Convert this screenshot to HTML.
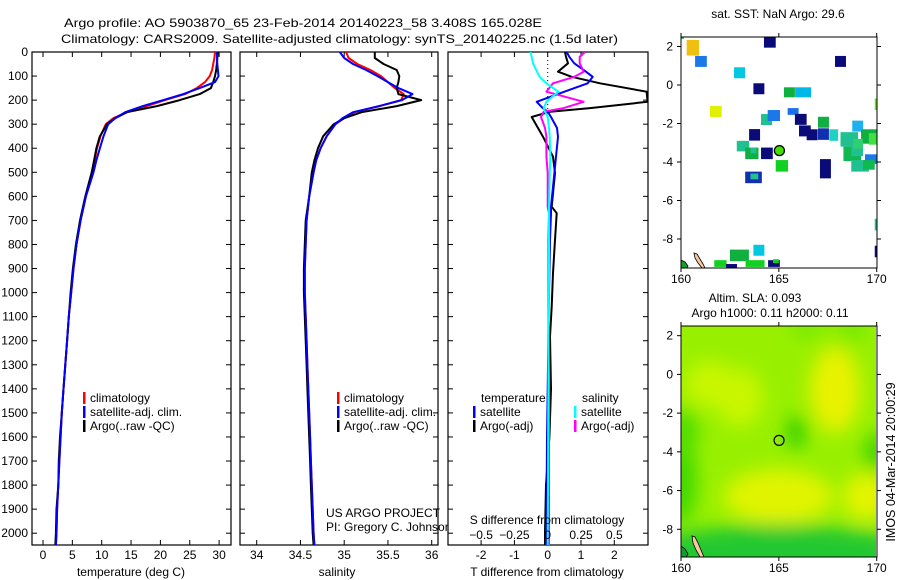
<!DOCTYPE html>
<html><head><meta charset="utf-8">
<style>
html,body{margin:0;padding:0;background:#fff;}
svg{display:block;font-family:"Liberation Sans",sans-serif;}
text{font-size:12px;fill:#000;}
</style></head>
<body>
<svg id="fig" width="900" height="580" viewBox="0 0 900 580">
<defs>
<filter id="blur" x="-50%" y="-50%" width="200%" height="200%"><feGaussianBlur stdDeviation="9"/></filter>
<clipPath id="clipM1"><rect x="681" y="37" width="196" height="231"/></clipPath>
<clipPath id="clipM2"><rect x="681" y="326" width="195" height="231"/></clipPath>
<clipPath id="clipP1"><rect x="32" y="52" width="199" height="493"/></clipPath>
<clipPath id="clipP2"><rect x="240" y="52" width="198" height="493"/></clipPath>
<clipPath id="clipP3"><rect x="448" y="52" width="200" height="493"/></clipPath>
</defs>
<text x="64" y="27" textLength="478" lengthAdjust="spacingAndGlyphs">Argo profile: AO 5903870_65 23-Feb-2014 20140223_58 3.408S 165.028E</text>
<text x="61" y="43" textLength="557" lengthAdjust="spacingAndGlyphs">Climatology: CARS2009. Satellite-adjusted climatology: synTS_20140225.nc (1.5d later)</text>
<g id="p1"></g>
<g id="p2"></g>
<text x="326" y="517">US ARGO PROJECT</text>
<text x="326" y="531">PI: Gregory C. Johnson</text>
<g id="p3"></g>
<g id="m1"></g>
<g id="m2"></g>
<text transform="translate(895,462) rotate(-90)" text-anchor="middle" style="font-size:12.5px">IMOS 04-Mar-2014 20:00:29</text>
</svg>
<script>
// ---------- profile data ----------
const depths=[0,25,50,75,100,125,150,175,200,225,250,275,300,350,400,450,500,600,700,800,900,1000,1100,1200,1300,1400,1500,1600,1700,1800,1900,2000,2050];
const tempArgo=[29.76,29.7,29.6,29.5,29.3,29.0,28.6,26.7,23.3,19.4,14.3,12.3,10.9,9.7,9.1,8.7,8.3,7.2,6.3,5.6,5.1,4.7,4.4,4.1,3.8,3.5,3.2,2.9,2.7,2.6,2.3,2.2,2.1];
const tempClim=[29.3,29.2,29.0,28.8,28.4,27.6,26.2,24.2,20.8,17.7,14.3,12.0,10.7,9.8,9.2,8.8,8.4,7.3,6.4,5.7,5.2,4.8,4.4,4.1,3.8,3.5,3.2,3.0,2.8,2.6,2.4,2.3,2.2];
const tempSat=[29.6,29.65,29.7,29.8,29.9,29.3,26.7,23.9,20.5,17.0,14.0,12.3,11.1,10.3,9.7,9.1,8.6,7.3,6.4,5.7,5.2,4.8,4.4,4.1,3.8,3.5,3.2,3.0,2.8,2.6,2.4,2.3,2.2];
const salArgo=[35.35,35.35,35.45,35.6,35.63,35.62,35.6,35.62,35.88,35.6,35.2,35.0,34.88,34.76,34.7,34.66,34.63,34.6,34.56,34.55,34.54,34.54,34.55,34.56,34.57,34.58,34.59,34.6,34.61,34.62,34.63,34.64,34.65];
const salClim=[35.02,35.05,35.15,35.3,35.42,35.5,35.58,35.68,35.65,35.4,35.12,35.0,34.9,34.8,34.73,34.68,34.65,34.6,34.57,34.56,34.55,34.55,34.56,34.57,34.58,34.59,34.6,34.61,34.62,34.63,34.64,34.65,34.66];
const salSat=[34.95,35.0,35.1,35.25,35.38,35.5,35.62,35.78,35.66,35.4,35.1,34.98,34.9,34.8,34.73,34.68,34.65,34.6,34.57,34.56,34.55,34.55,34.56,34.57,34.58,34.59,34.6,34.61,34.62,34.63,34.64,34.65,34.66];
const diffDepths=[0,20,47,82,103,130,165,207,233,248,270,316,352,435,503,643,670,781,919,1058,1183,1400,1600,1800,2000,2050];
const dTArgo=[0.52,0.55,0.61,0.31,0.72,1.57,2.97,3.0,1.27,0.07,-0.48,-0.29,-0.14,0.16,0.22,0.12,0.27,0.22,0.16,0.12,0.07,0.1,0.05,-0.05,-0.08,-0.08];
const dTSat=[0.57,0.65,0.8,1.15,1.35,1.2,0.5,-0.33,-0.15,0.0,0.1,0.28,0.31,0.25,0.2,0.1,0.1,0.07,0.05,0.03,0.02,0.0,-0.02,-0.03,-0.05,-0.05];
const dSArgo=[0.28,0.24,0.24,0.27,0.2,0.04,-0.01,0.27,0.12,-0.03,-0.05,-0.02,-0.01,-0.01,0.0,0.0,0.01,0.005,0.005,0.005,0.005,0.01,0.01,0.01,0.01,0.01];
const dSSat=[-0.13,-0.12,-0.11,-0.08,-0.06,-0.01,0.08,-0.01,-0.03,-0.02,0.0,0.01,0.015,0.02,0.015,0.01,0.01,0.01,0.01,0.008,0.005,0.005,0.003,0.002,0.0,0.0];
const depthTicks=[0,100,200,300,400,500,600,700,800,900,1000,1100,1200,1300,1400,1500,1600,1700,1800,1900,2000];
const tempTicks=[0,5,10,15,20,25,30];
const salTicks=[34,34.5,35,35.5,36];
const dTTicks=[-2,-1,0,1,2];
const dSTicks=[-0.5,-0.25,0,0.25,0.5];
// ---------- map data ----------
const sstLon=[160.29,160.72,162.71,161.48,163.70,164.24,167.87,165.26,165.83,164.09,164.43,165.45,165.82,166.03,166.42,167.0,167.0,167.58,163.48,162.85,163.28,163.55,164.09,164.84,163.28,163.55,167.1,168.75,160.0,169.9,169.9,169.9,162.5,163.7,161.7,162.3,163.3,164.45,164.7,168.15,168.3,168.7,169.2,169.6,168.7,169.4,168.8,169.3];
const sstLat=[2.34,1.51,0.92,-1.09,0.09,2.56,1.51,-0.12,-0.12,-1.51,-1.3,-1.2,-1.5,-2.1,-2.3,-1.65,-2.25,-2.3,-2.29,-2.9,-3.25,-3.25,-3.25,-3.9,-4.5,-4.6,-3.85,-1.85,2.6,-0.7,-6.95,-8.35,-8.55,-8.3,-9.1,-9.3,-9.1,-9.1,-9.05,-2.45,-3.2,-3.1,-2.3,-2.5,-3.9,-3.6,-2.8,-3.9];
const sstW=[0.63,0.6,0.56,0.6,0.56,0.6,0.56,0.56,0.82,0.56,0.63,0.56,0.6,0.6,0.56,0.56,0.56,0.45,0.56,0.63,0.68,0.3,0.6,0.63,0.85,0.4,0.56,0.56,0.15,0.15,0.15,0.15,0.97,0.56,0.63,0.56,0.97,0.6,0.3,0.9,0.9,0.6,0.8,0.4,0.9,0.6,0.5,0.6];
const sstH=[0.81,0.57,0.57,0.57,0.57,0.62,0.57,0.52,0.52,0.57,0.57,0.35,0.57,0.57,0.57,0.57,0.6,0.6,0.6,0.55,0.6,0.3,0.6,0.6,0.6,0.3,1.0,0.57,0.2,0.6,0.6,0.6,0.6,0.57,0.35,0.2,0.35,0.35,0.2,0.75,0.75,0.6,0.75,0.6,0.6,0.5,0.5,0.5];
const sstCol=["#f0c010","#1a78e8","#00c8e0","#e0f000","#0a0a78","#0a0a78","#0a0a78","#10b040","#00b8e8","#20c090","#1a78e8","#1a70e8","#0a0a78","#0a0a78","#0a0a78","#10b040","#1030b0","#20d0c0","#0a0a78","#20c090","#10b040","#20c090","#0a0a78","#10d020","#1030b0","#20c090","#0a0a78","#20b0f0","#10d020","#70e020","#20c090","#0a0a78","#10b040","#00c8e0","#10d020","#0a0a78","#10d020","#0a0a78","#10d020","#20c090","#10b850","#20c090","#10b040","#40e040","#20c090","#1a78e8","#30d070","#10b850"];
const argoLon=[165.028];
const argoLat=[-3.408];
const slaLon=[160.0,167.9,165.0,169.5,161.5,163.0,165.9,170.0,160.1,168.8,166.5,165.0];
const slaLat=[-5.5,-0.8,-6.3,-6.3,-0.5,-1.2,-3.0,-4.0,-3.0,2.3,2.3,-9.2];
const slaRx=[0.8,1.3,2.8,1.2,1.3,1.2,0.5,0.6,0.8,0.8,0.9,7];
const slaRy=[2.2,2.2,1.4,1.2,1.2,1.5,0.9,1.0,1.2,0.5,0.4,1.4];
const slaCol=["#40d800","#e8f200","#e0f400","#e4f400","#c8f600","#c8f600","#30d000","#40d400","#50dc00","#70e800","#70e800","#20c830"];

const NS='http://www.w3.org/2000/svg';
function mk(tag,attrs,parent){const e=document.createElementNS(NS,tag);for(const k in attrs)e.setAttribute(k,attrs[k]);parent.appendChild(e);return e;}
const Y0=52,DY=0.2406;
const yD=d=>Y0+d*DY;
const xT=t=>43+t*5.87;
const xS=s=>256.7+(s-34)*87.5;
const xDT=t=>547.7+t*33.3;
const xDS=s=>547.7+s*133.3;

function frame(g,x0,x1,name){
  const r=mk('rect',{x:x0,y:52,width:x1-x0,height:493,fill:'#fff',stroke:'#000','stroke-width':1.2},g);
  
  
  depthTicks.forEach(d=>{
    const t1=mk('line',{x1:x0,x2:x0+5,y1:yD(d),y2:yD(d),stroke:'#000'},g);
    
    
    const t2=mk('line',{x1:x1-5,x2:x1,y1:yD(d),y2:yD(d),stroke:'#000'},g);
    
    
  });
}
function xticks(g,vals,fx,labels){
  vals.forEach(v=>{
    const a=mk('line',{x1:fx(v),x2:fx(v),y1:545,y2:540,stroke:'#000'},g);
    
    
    const b=mk('line',{x1:fx(v),x2:fx(v),y1:52,y2:57,stroke:'#000'},g);
    
    
    if(labels){const t=mk('text',{x:fx(v),y:559,'text-anchor':'middle'},g);t.textContent=String(v);
    
    }
  });
}
function line(g,xs,ys,fx,color,name,clip){
  const pts=xs.map((v,i)=>fx(v).toFixed(1)+','+yD(ys[i]).toFixed(1)).join(' ');
  const p=mk('polyline',{points:pts,fill:'none',stroke:color,'stroke-width':2,'stroke-linejoin':'round','clip-path':'url(#'+clip+')'},g);
  
  
}
function legend(g,x,y,color,label){
  const b=mk('rect',{x:x,y:y-10,width:2.5,height:12,fill:color},g);
  
  
  const t=mk('text',{x:x+7,y:y},g);t.textContent=label;
  
  
}
function txt(g,x,y,s,name,anchor){const t=mk('text',{x:x,y:y,'text-anchor':anchor||'start'},g);t.textContent=s;
  
  return t;}

// panel 1
const p1=document.getElementById('p1');
frame(p1,32,231,'temperature-axes-box');
depthTicks.forEach(d=>{txt(p1,28,yD(d)+4,String(d),'depth-tick-label','end');});
xticks(p1,tempTicks,xT,true);
txt(p1,131,576,'temperature (deg C)','x-axis-title','middle');
line(p1,tempClim,depths,xT,'#ff0000','temp-climatology-line','clipP1');
line(p1,tempArgo,depths,xT,'#000000','temp-argo-line','clipP1');
line(p1,tempSat,depths,xT,'#0000ff','temp-satellite-line','clipP1');
legend(p1,83,402,'#ff0000','climatology');
legend(p1,83,416,'#0000ff','satellite-adj. clim.');
legend(p1,83,430,'#000000','Argo(..raw -QC)');

// panel 2
const p2=document.getElementById('p2');
frame(p2,240,438,'salinity-axes-box');
xticks(p2,salTicks,xS,true);
txt(p2,337,576,'salinity','x-axis-title','middle');
line(p2,salClim,depths,xS,'#ff0000','sal-climatology-line','clipP2');
line(p2,salArgo,depths,xS,'#000000','sal-argo-line','clipP2');
line(p2,salSat,depths,xS,'#0000ff','sal-satellite-line','clipP2');
legend(p2,337,402,'#ff0000','climatology');
legend(p2,337,416,'#0000ff','satellite-adj. clim.');
legend(p2,337,430,'#000000','Argo(..raw -QC)');

// panel 3
const p3=document.getElementById('p3');
frame(p3,448,648,'difference-axes-box');
xticks(p3,dTTicks,xDT,true);
const dl=mk('line',{x1:547.7,x2:547.7,y1:52,y2:yD(240),stroke:'#000','stroke-dasharray':'1,3'},p3);


txt(p3,547,576,'T difference from climatology','x-axis-title','middle');
line(p3,dTArgo,diffDepths,xDT,'#000000','dT-argo-line','clipP3');
line(p3,dTSat,diffDepths,xDT,'#0000ff','dT-satellite-line','clipP3');
line(p3,dSArgo,diffDepths,xDS,'#ff00ff','dS-argo-line','clipP3');
line(p3,dSSat,diffDepths,xDS,'#00ffff','dS-satellite-line','clipP3');
txt(p3,547,524,'S difference from climatology','s-axis-title','middle');
dSTicks.forEach(v=>{txt(p3,xDS(v),539,String(v).replace('-','\u2212'),'s-tick-label','middle');});
txt(p3,481,402,'temperature','legend-heading');
txt(p3,582,402,'salinity','legend-heading');
legend(p3,473,416,'#0000ff','satellite');
legend(p3,473,430,'#000000','Argo(-adj)');
legend(p3,574,416,'#00ffff','satellite');
legend(p3,574,430,'#ff00ff','Argo(-adj)');

// maps
function mapAxes(g,top,bot,lat0y,dy,clipId,name){
  const xL=lon=>681+(lon-160)*19.57;
  const yL=lat=>lat0y-lat*dy;
  [2,0,-2,-4,-6,-8].forEach(l=>{
    txt(g,673,yL(l)+4,String(l),'lat-tick-label','end');
    const a=mk('line',{x1:677,x2:681,y1:yL(l),y2:yL(l),stroke:'#000'},g);
    
    
    const b=mk('line',{x1:877,x2:881,y1:yL(l),y2:yL(l),stroke:'#000'},g);
    
    
  });
  [160,165,170].forEach(l=>{
    txt(g,xL(l),bot+15,String(l),'lon-tick-label','middle');
    const a=mk('line',{x1:xL(l),x2:xL(l),y1:bot,y2:bot+4,stroke:'#000'},g);
    
    
    const b=mk('line',{x1:xL(l),x2:xL(l),y1:top-4,y2:top,stroke:'#000'},g);
    
    
  });
  const r=mk('rect',{x:681,y:top,width:196,height:bot-top,fill:'none',stroke:'#000','stroke-width':1},g);
  
  
  return [xL,yL];
}
// map 1
const m1=document.getElementById('m1');
txt(m1,778,18,'sat. SST: NaN Argo: 29.6','sst-map-title','middle');
const [x1L,y1L]=[lon=>681+(lon-160)*19.57,lat=>85-lat*19.25];
const c1=mk('g',{'clip-path':'url(#clipM1)'},m1);
sstLon.forEach((lo,i)=>{
  const r=mk('rect',{x:x1L(lo),y:y1L(sstLat[i]),width:sstW[i]*19.57,height:sstH[i]*19.25,fill:sstCol[i]},c1);
  
  
});
const land1=mk('path',{d:'M694,253 L697,254 L700,259 L703,264 L705,268 L702,268 L698,263 L695,258 Z',fill:'#f8c8a0',stroke:'#000','stroke-width':0.8},c1);


const land1b=mk('path',{d:'M681,260 L685,262 L688,266 L687,268 L681,268 Z',fill:'#10a030',stroke:'#000','stroke-width':0.8},c1);


argoLon.forEach((lo,i)=>{
  const c=mk('circle',{cx:x1L(lo),cy:y1L(argoLat[i]),r:5,fill:'#40e000',stroke:'#000','stroke-width':1.3},m1);
  
  
});
mapAxes(m1,37,268,85,19.25,'clipM1','sst-map-frame');

// map 2
const m2=document.getElementById('m2');
txt(m2,755,302,'Altim. SLA: 0.093','sla-map-title','middle');
txt(m2,770,317,'Argo h1000: 0.11 h2000: 0.11','sla-map-subtitle','middle');
const x2L=lon=>681+(lon-160)*19.5, y2L=lat=>374.4-lat*19.36;
const c2=mk('g',{'clip-path':'url(#clipM2)'},m2);
const bg=mk('rect',{x:681,y:326,width:196,height:231,fill:'#98f000'},c2);


const bl=mk('g',{filter:'url(#blur)'},c2);
slaLon.forEach((lo,i)=>{
  const e=mk('ellipse',{cx:x2L(lo),cy:y2L(slaLat[i]),rx:slaRx[i]*19.5,ry:slaRy[i]*19.36,fill:slaCol[i]},bl);
  
  
});
const land2=mk('path',{d:'M692,536 L695,537 L698,543 L701,550 L704,557 L700,557 L696,550 L693,543 Z',fill:'#f8c8a0',stroke:'#000','stroke-width':0.8},c2);


const land2b=mk('path',{d:'M681,546 L685,549 L688,554 L686,557 L681,557 Z',fill:'#10a030',stroke:'#000','stroke-width':0.8},c2);


argoLon.forEach((lo,i)=>{
  const c=mk('circle',{cx:x2L(lo),cy:y2L(argoLat[i]),r:5,fill:'none',stroke:'#000','stroke-width':1.2},m2);
  
  
});
mapAxes(m2,326,557,374.4,19.36,'clipM2','sla-map-frame');
</script>
</body></html>
